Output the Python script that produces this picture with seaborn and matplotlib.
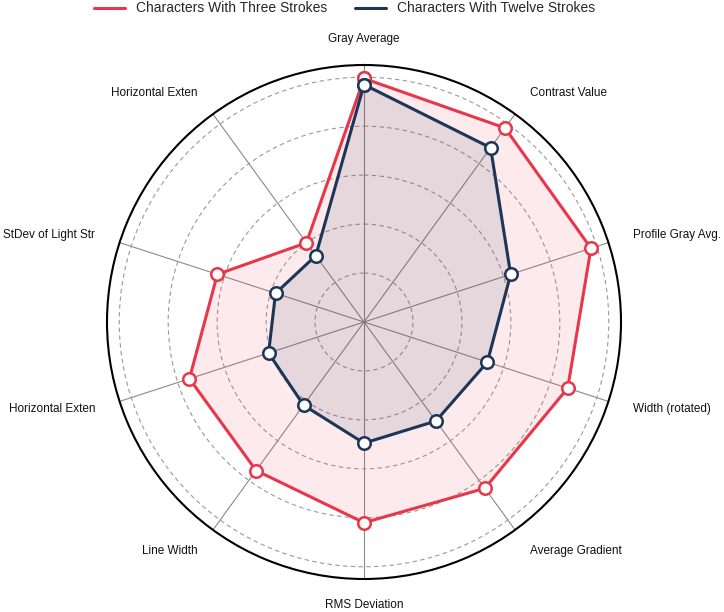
import numpy as np
import matplotlib
matplotlib.use("Agg")
import matplotlib.pyplot as plt
import seaborn as sns
from matplotlib.lines import Line2D

categories = ["Gray Average", "Contrast Value", "Profile Gray Avg.", "Width (rotated)",
              "Average Gradient", "RMS Deviation", "Line Width", "Horizontal Exten",
              "StDev of Light Str", "Horizontal Exten"]
three_strokes = [0.995, 0.98, 0.975, 0.875, 0.84, 0.82, 0.75, 0.75, 0.63, 0.40]
twelve_strokes = [0.97, 0.88, 0.63, 0.53, 0.50, 0.495, 0.42, 0.41, 0.38, 0.335]
series_names = ["Characters With Three Strokes", "Characters With Twelve Strokes"]
colors = ["#E8364A", "#1D3557"]

sns.set_theme(style="white")
plt.rcParams["font.family"] = ["Liberation Sans", "DejaVu Sans"]

n = len(categories)
theta = np.linspace(0, 2 * np.pi, n, endpoint=False)
theta_c = np.append(theta, 2 * np.pi)

fig = plt.figure(figsize=(7.24, 6.12), dpi=100)
ax = fig.add_axes([107 / 724, 33 / 612, 514 / 724, 514 / 612], projection="polar")
ax.set_theta_offset(np.pi / 2)
ax.set_theta_direction(-1)
ax.set_ylim(0, 1.05)

for vals, col in zip([three_strokes, twelve_strokes], colors):
    ax.fill(theta, vals, color=col, alpha=0.1, zorder=2, lw=0)
    r = np.append(vals, vals[0])
    sns.lineplot(x=theta_c, y=r, ax=ax, sort=False, color=col, lw=2.2, zorder=3,
                 marker="o", markersize=9, markerfacecolor="white",
                 markeredgecolor=col, markeredgewidth=1.8, legend=False)

ax.set_xticks(theta)
ax.set_xticklabels([])
ax.set_yticks([0.2, 0.4, 0.6, 0.8, 1.0])
ax.set_yticklabels([])
ax.xaxis.grid(True, color="#8a8a8a", lw=0.8, ls="-")
ax.yaxis.grid(True, color="#9a9a9a", lw=0.8, ls=(0, (4, 3)))
ax.spines["polar"].set_color("black")
ax.spines["polar"].set_linewidth(1.5)
ax.set_xlabel("")
ax.set_ylabel("")

for ang, lab in zip(theta, categories):
    s = np.sin(ang)
    if abs(s) < 0.01:
        ha = "center"
    elif s > 0:
        ha = "left"
    else:
        ha = "right"
    ax.text(ang, 1.155, lab, ha=ha, va="center", fontsize=8.5, color="#111111")

handles = [Line2D([0], [0], color=c, lw=2.2) for c in colors]
fig.legend(handles, series_names, loc="upper center", bbox_to_anchor=(0.476, 1.018),
           ncol=2, frameon=False, fontsize=10, handlelength=2.2, handletextpad=0.8,
           columnspacing=2.0)

fig.savefig("out.png", dpi=100)
